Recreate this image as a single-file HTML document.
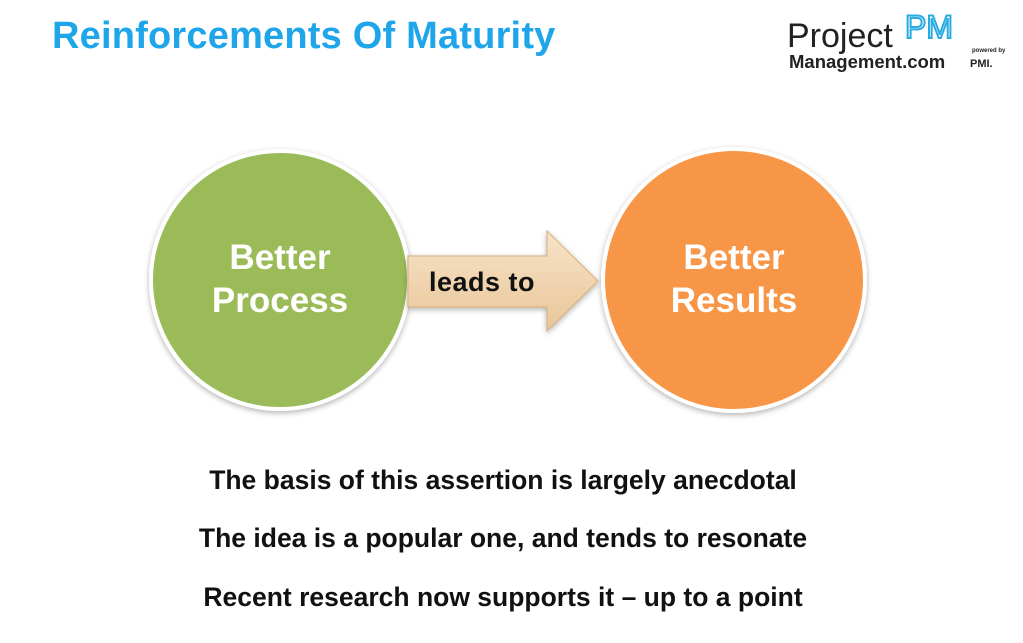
<!DOCTYPE html>
<html><head><style>
body{margin:0;width:1023px;height:643px;background:#fff;overflow:hidden;position:relative;font-family:"Liberation Sans",Arial,sans-serif}
.t{position:absolute;left:52px;top:15px;font-size:38px;font-weight:bold;color:#1ea5ea;letter-spacing:0.2px}
.b{position:absolute;left:0;width:1006px;text-align:center;font-size:26.5px;font-weight:bold;color:#111}
</style></head><body>
<div class="t">Reinforcements Of Maturity</div>
<svg width="1023" height="643" style="position:absolute;left:0;top:0">
<defs>
<linearGradient id="ag" x1="0" y1="0" x2="0" y2="1"><stop offset="0" stop-color="#f7e3c8"/><stop offset="1" stop-color="#e9c698"/></linearGradient>
<filter id="sh"><feDropShadow dx="0" dy="2" stdDeviation="3" flood-opacity="0.3"/></filter>
</defs>
<circle cx="280" cy="280" r="129" fill="#9bbb59" stroke="#fff" stroke-width="4" filter="url(#sh)"/>
<circle cx="734" cy="280" r="131" fill="#f79646" stroke="#fff" stroke-width="4" filter="url(#sh)"/>
<polygon points="408,256 547,256 547,231 598,281 547,331 547,307 408,307" fill="url(#ag)" stroke="#d9b07a" stroke-width="1" filter="url(#sh)"/>
<text x="482" y="291" font-size="27" font-weight="bold" text-anchor="middle" fill="#111" font-family="Liberation Sans,Arial,sans-serif" letter-spacing="0.5">leads to</text>
<g font-family="Liberation Sans,Arial,sans-serif" font-size="35" font-weight="bold" fill="#fff" text-anchor="middle">
<text x="280" y="269">Better</text><text x="280" y="312">Process</text>
<text x="734" y="269">Better</text><text x="734" y="312">Results</text>
</g>
<g font-family="Liberation Sans,Arial,sans-serif">
<text x="787" y="47" font-size="34" fill="#222">Project</text>
<text x="789" y="68" font-size="18.5" font-weight="bold" fill="#222">Management.com</text>
<text x="905" y="38" font-size="32" fill="none" stroke="#29abe2" stroke-width="2">PM</text>
<text x="972" y="52" font-size="6" font-weight="bold" fill="#222">powered by</text>
<text x="970" y="67" font-size="11" font-weight="bold" fill="#222">PMI.</text>
</g>
</svg>
<div class="b" style="top:465px">The basis of this assertion is largely anecdotal</div>
<div class="b" style="top:523px">The idea is a popular one, and tends to resonate</div>
<div class="b" style="top:582px">Recent research now supports it – up to a point</div>
</body></html>
